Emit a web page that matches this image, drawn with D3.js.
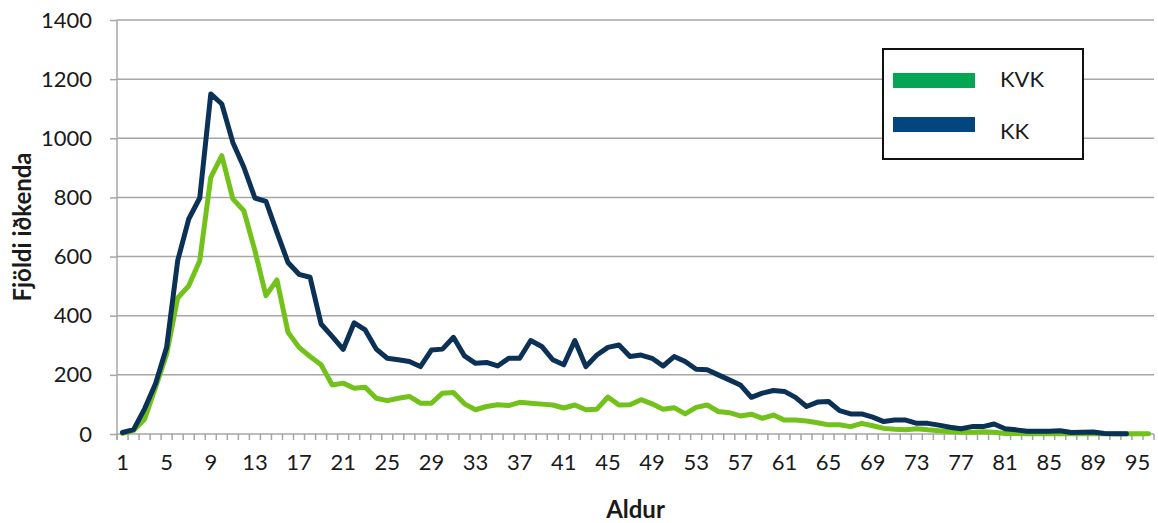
<!DOCTYPE html>
<html><head><meta charset="utf-8">
<script src="https://cdn.jsdelivr.net/npm/d3@7"></script>
<style>
body{margin:0;background:#fff}
svg{display:block}
text{font-family:Lato,"Open Sans",sans-serif;fill:#1a1a1a}
</style>
</head><body>
<svg id="c" width="1158" height="523"></svg>
<script>
const ages = [1,2,3,4,5,6,7,8,9,10,11,12,13,14,15,16,17,18,19,20,21,22,23,24,25,26,27,28,29,30,
  31,32,33,34,35,36,37,38,39,40,41,42,43,44,45,46,47,48,49,50,51,52,53,54,55,56,57,58,59,60,
  61,62,63,64,65,66,67,68,69,70,71,72,73,74,75,76,77,78,79,80,81,82,83,84,85,86,87,88,89,90,
  91,92,95,96];
const kvk = [2,12,50,158,270,460,501,586,868,941,795,755,620,468,521,344,293,262,234,166,
  172,155,158,121,113,121,127,104,104,138,140,102,82,93,99,96,107,104,101,98,
  88,98,82,84,125,98,99,116,102,84,89,68,90,98,76,72,61,67,53,64,
  47,47,44,38,31,31,25,36,28,19,16,14,18,14,11,8,6,6,8,6,
  2,2,1,1,1,1,1,1,1,1,1,1,1,1];
const kk = [5,15,85,171,293,586,727,798,1150,1116,986,902,798,787,682,580,540,530,372,330,
  286,376,352,287,256,251,245,228,284,287,327,264,239,242,230,256,256,316,296,251,
  234,316,228,267,293,301,262,267,256,230,262,245,219,217,200,183,166,124,138,147,
  144,124,93,108,110,79,68,68,57,42,47,47,36,36,30,23,18,25,25,34,
  18,14,9,9,9,11,5,6,7,2,1,1];
const yTicks = [0,200,400,600,800,1000,1200,1400];
const xLabelAges = [1,5,9,13,17,21,25,29,33,37,41,45,49,53,57,61,65,69,73,77,81,85,89,95];
const seriesNames = ["KVK","KK"];
const lineColors = ["#72c21b","#0c3157"];
const legendColors = ["#05a653","#03457f"];

const svg = d3.select("#c");
const L = 117, R = 1154, T = 20, B = 434;
const x = d3.scaleBand().domain(ages).range([L, R]).padding(0);
const bw = x.bandwidth();
const y = d3.scaleLinear().domain([0, 1400]).range([B, T]);

// gridlines
svg.append("g").selectAll("line").data(yTicks.filter(v => v > 0)).join("line")
  .attr("x1", L).attr("x2", R).attr("y1", d => y(d)).attr("y2", d => y(d))
  .attr("stroke", "#a6a6a6").attr("stroke-width", 1.5);

// x axis tick marks at category boundaries
const bounds = ages.map(a => x(a)).concat([R]);
svg.append("g").selectAll("line").data(bounds).join("line")
  .attr("x1", d => d).attr("x2", d => d).attr("y1", B).attr("y2", B + 6)
  .attr("stroke", "#a6a6a6").attr("stroke-width", 1.5);
svg.append("line").attr("x1", L).attr("x2", R).attr("y1", B).attr("y2", B)
  .attr("stroke", "#a6a6a6").attr("stroke-width", 1.5);

// x labels
const xa = svg.append("g").attr("transform", `translate(0,${B})`)
  .call(d3.axisBottom(x).tickValues(xLabelAges).tickSize(0).tickPadding(20));
xa.select(".domain").remove();
xa.selectAll("text").style("font-size", "22px").style("font-family", "Lato,sans-serif").attr("fill", "#1a1a1a");

// y axis
const ya = svg.append("g").attr("transform", `translate(${L},0)`)
  .call(d3.axisLeft(y).tickValues(yTicks).tickFormat(d3.format("d")).tickSize(7).tickPadding(18));
ya.select(".domain").attr("stroke", "#a6a6a6").attr("stroke-width", 1.5)
  .attr("d", `M0,${T}V${B + 6}`);
ya.selectAll(".tick line").attr("stroke", "#a6a6a6").attr("stroke-width", 1.5);
ya.selectAll("text").style("font-size", "22px").style("font-family", "Lato,sans-serif").attr("fill", "#1a1a1a");

// lines
const line = d3.line().x(d => x(d.a) + bw / 2).y(d => y(d.v));
const series = [kvk, kk];
series.forEach((vals, i) => {
  const pts = vals.map((v, j) => ({a: ages[j], v}));
  svg.append("path").attr("d", line(pts)).attr("fill", "none")
    .attr("stroke", lineColors[i]).attr("stroke-width", 5)
    .attr("stroke-linejoin", "round").attr("stroke-linecap", "round");
});

// axis titles
svg.append("text").attr("transform", `translate(31,${(T + B) / 2}) rotate(-90)`)
  .attr("text-anchor", "middle").style("font-weight", "bold").style("font-size", "24px")
  .text("Fjöldi iðkenda");
svg.append("text").attr("x", (L + R) / 2).attr("y", 518)
  .attr("text-anchor", "middle").style("font-weight", "bold").style("font-size", "24px")
  .text("Aldur");

// legend
const lg = svg.append("g");
lg.append("rect").attr("x", 883).attr("y", 49).attr("width", 200).attr("height", 110)
  .attr("fill", "#fff").attr("stroke", "#111").attr("stroke-width", 2);
seriesNames.forEach((n, i) => {
  lg.append("rect").attr("x", 893).attr("y", 73 + i * 44).attr("width", 82).attr("height", 15)
    .attr("fill", legendColors[i]);
  lg.append("text").attr("x", 1000).attr("y", 87 + i * 52).style("font-size", "22px").text(n);
});
</script>
</body></html>
